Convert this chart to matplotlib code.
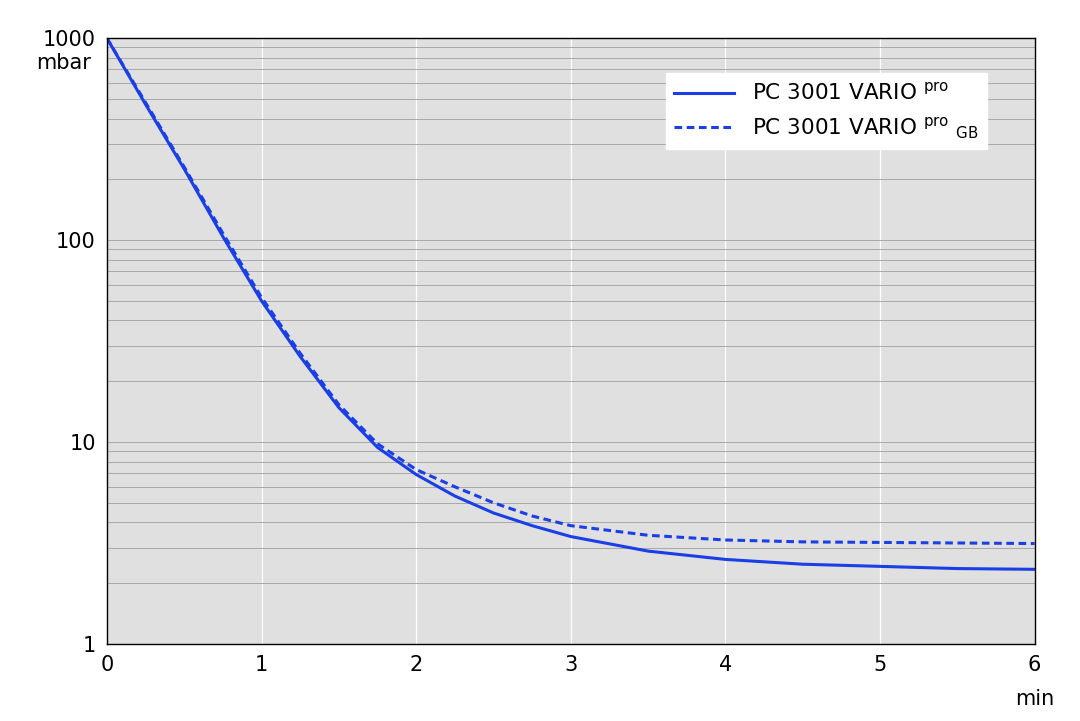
import matplotlib
matplotlib.use("Agg")
import matplotlib.pyplot as plt
import numpy as np

t = [0, 0.25, 0.5, 0.75, 1.0, 1.25, 1.5, 1.75, 2.0, 2.25, 2.5, 2.75, 3.0, 3.5, 4.0, 4.5, 5.0, 5.5, 6.0]
solid = [1000, 470, 225, 104, 50, 26.5, 14.8, 9.4, 6.9, 5.4, 4.45, 3.85, 3.4, 2.88, 2.62, 2.48, 2.42, 2.36, 2.34]
dashed = [1000, 480, 230, 108, 52, 27.5, 15.3, 9.8, 7.3, 6.0, 5.0, 4.3, 3.85, 3.45, 3.27, 3.2, 3.18, 3.16, 3.14]
blue = "#1a3fe6"

fig = plt.figure(figsize=(10.8, 7.21), dpi=100)
ax = fig.add_axes([0.099, 0.107, 0.859, 0.840])
ax.set_facecolor("#e0e0e0")
ax.set_yscale("log")
ax.set_xlim(0, 6)
ax.set_ylim(1, 1000)
ax.grid(True, which="minor", axis="y", color="#a8a8a8", lw=0.7)
ax.grid(True, which="major", axis="y", color="#a8a8a8", lw=0.7)
ax.grid(True, which="major", axis="x", color="white", lw=0.9)
ax.set_axisbelow(True)
ax.plot(t, solid, color=blue, lw=2.2, label="PC 3001 VARIO $^{\\mathrm{pro}}$")
ax.plot(t, dashed, color=blue, lw=2.2, ls=(0, (2.5, 1.5)), label="PC 3001 VARIO $^{\\mathrm{pro}}$ $_{\\mathrm{GB}}$")
ax.set_xticks(range(7))
ax.set_yticks([1, 10, 100, 1000])
ax.set_yticklabels(["1", "10", "100", "1000"])
ax.tick_params(which="both", length=0, labelsize=15, pad=8)
ax.tick_params(axis="y", which="minor", labelleft=False)
ax.text(-0.017, 0.975, "mbar", transform=ax.transAxes, ha="right", va="top", fontsize=15)
ax.text(1.0, -0.075, "min", transform=ax.transAxes, ha="center", va="top", fontsize=15)
for s in ax.spines.values():
    s.set_color("black"); s.set_linewidth(1.0)
leg = ax.legend(loc="upper right", bbox_to_anchor=(0.96, 0.96), fontsize=15.5, frameon=True,
                fancybox=False, framealpha=1, edgecolor="white", handlelength=2.8)
plt.savefig("out.png", dpi=100)
